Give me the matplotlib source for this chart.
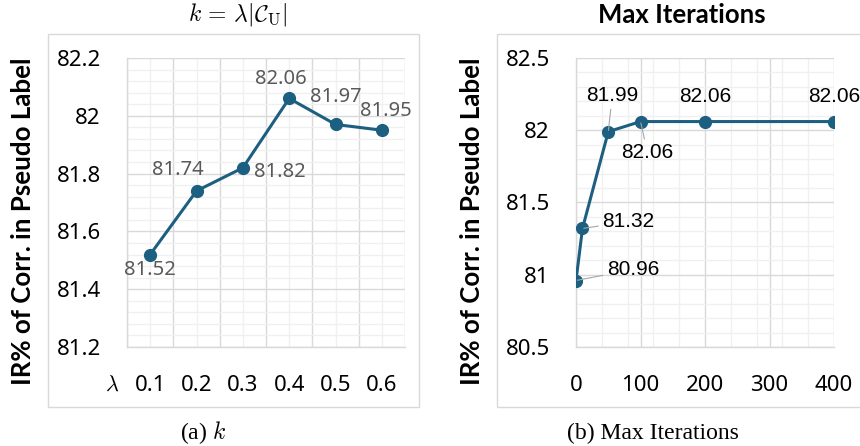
import matplotlib
matplotlib.use("Agg")
import matplotlib.pyplot as plt
import numpy as np
from matplotlib.patches import Rectangle
from matplotlib.ticker import MultipleLocator, FuncFormatter

# data
lam_labels = ["0.1", "0.2", "0.3", "0.4", "0.5", "0.6"]
ir_k = [81.52, 81.74, 81.82, 82.06, 81.97, 81.95]
iters = [0, 10, 50, 100, 200, 400]
ir_iter = [80.96, 81.32, 81.99, 82.06, 82.06, 82.06]

# label offsets in pixels (dx, dy)
off_k = [(0, -15), (-19, 21), (37, -4), (-8, 19), (0, 27), (4, 19)]
off_it = [(57, 11), (46, 7), (4, 36), (7, -31), (0, 25), (0, 25)]
leader = [True, True, True, True, False, False]

plt.rcParams["font.family"] = ["Noto Sans", "DejaVu Sans"]
line_c = "#1d5f80"
major_c = "#d9d9d9"
minor_c = "#f0f0f0"
fmt = FuncFormatter(lambda v, p: "%g" % round(v, 4))

fig = plt.figure(figsize=(8.6, 4.46), dpi=100)

# panel frames
for x0 in (48 / 860, 497 / 860):
    fig.patches.append(Rectangle((x0, 0.0874), 0.4314, 0.8363, transform=fig.transFigure,
                                 fill=False, edgecolor=major_c, lw=1.0, zorder=0))

ax1 = fig.add_axes([0.1477, 0.222, 0.3233, 0.648])
ax2 = fig.add_axes([0.6698, 0.222, 0.3000, 0.648])

for ax in (ax1, ax2):
    for s in ["top", "right"]:
        ax.spines[s].set_visible(False)
    for s in ["left", "bottom"]:
        ax.spines[s].set_color(major_c)
        ax.spines[s].set_linewidth(1.0)
    ax.tick_params(which="both", length=0)
    ax.tick_params(axis="y", labelsize=16, pad=19)
    ax.tick_params(axis="x", labelsize=16, pad=20)
    ax.set_axisbelow(True)
    ax.yaxis.set_major_formatter(fmt)

# (a) k
x = np.arange(len(lam_labels))
ax1.plot(x, ir_k, color=line_c, lw=2.2, marker="o", ms=8.5, zorder=3)
ax1.set_xlim(-0.5, 5.5)
ax1.set_ylim(81.2, 82.2)
ax1.set_xticks(x, lam_labels)
ax1.set_xticks(np.arange(-0.5, 6, 1), minor=True)
ax1.yaxis.set_major_locator(MultipleLocator(0.2))
ax1.yaxis.set_minor_locator(MultipleLocator(0.04))
ax1.grid(True, which="major", axis="y", color=major_c, lw=1.0)
ax1.grid(True, which="minor", axis="y", color=minor_c, lw=1.0)
ax1.grid(True, which="major", axis="x", color=minor_c, lw=1.0)
ax1.grid(True, which="minor", axis="x", color=major_c, lw=1.0)
for xi, yi, (dx, dy) in zip(x, ir_k, off_k):
    ax1.annotate("%.2f" % yi, (xi, yi), xytext=(dx, dy), textcoords="offset pixels",
                 ha="center", va="center", fontsize=14.5, color="#595959")

# (b) max iterations
ax2.plot(iters, ir_iter, color=line_c, lw=2.2, marker="o", ms=8.5, zorder=3)
ax2.set_xlim(0, 400)
ax2.set_ylim(80.5, 82.5)
ax2.xaxis.set_major_locator(MultipleLocator(100))
ax2.xaxis.set_minor_locator(MultipleLocator(40))
ax2.yaxis.set_major_locator(MultipleLocator(0.5))
ax2.yaxis.set_minor_locator(MultipleLocator(0.1))
ax2.grid(True, which="major", color=major_c, lw=1.0)
ax2.grid(True, which="minor", color=minor_c, lw=1.0)
for xi, yi, (dx, dy), ld in zip(iters, ir_iter, off_it, leader):
    props = None
    if ld:
        props = dict(arrowstyle="-", color="#a6a6a6", lw=0.8, shrinkA=1, shrinkB=1)
    ax2.annotate("%.2f" % yi, (xi, yi), xytext=(dx, dy), textcoords="offset pixels",
                 ha="center", va="center", fontsize=15, color="black",
                 family="Liberation Sans", arrowprops=props, annotation_clip=False)

# axis titles and labels
ylab = "IR% of Corr. in Pseudo Label"
fig.text(23 / 860, 1 - 221 / 446, ylab, rotation=90, ha="center", va="center",
         fontsize=18.6, fontweight="bold", family="Lato")
fig.text(472 / 860, 1 - 221 / 446, ylab, rotation=90, ha="center", va="center",
         fontsize=18.6, fontweight="bold", family="Lato")
fig.text(112 / 860, 1 - 385 / 446, r"$\lambda$", ha="center", va="center",
         fontsize=16, math_fontfamily="cm")

fig.text(238 / 860, 1 - 15 / 446, r"$k\,=\,\lambda|\mathcal{C}_\mathrm{U}|$", ha="center",
         va="center", fontsize=17, math_fontfamily="cm")
fig.text(682 / 860, 1 - 15 / 446, "Max Iterations", ha="center", va="center",
         fontsize=18.5, fontweight="bold", family="Lato")

fig.text(203 / 860, 1 - 433 / 446, r"(a) $k$", ha="center", va="center",
         fontsize=17, family="Liberation Serif", math_fontfamily="cm")
fig.text(653 / 860, 1 - 433 / 446, "(b) Max Iterations", ha="center", va="center",
         fontsize=17, family="Liberation Serif")

fig.savefig("out.png", dpi=100)
